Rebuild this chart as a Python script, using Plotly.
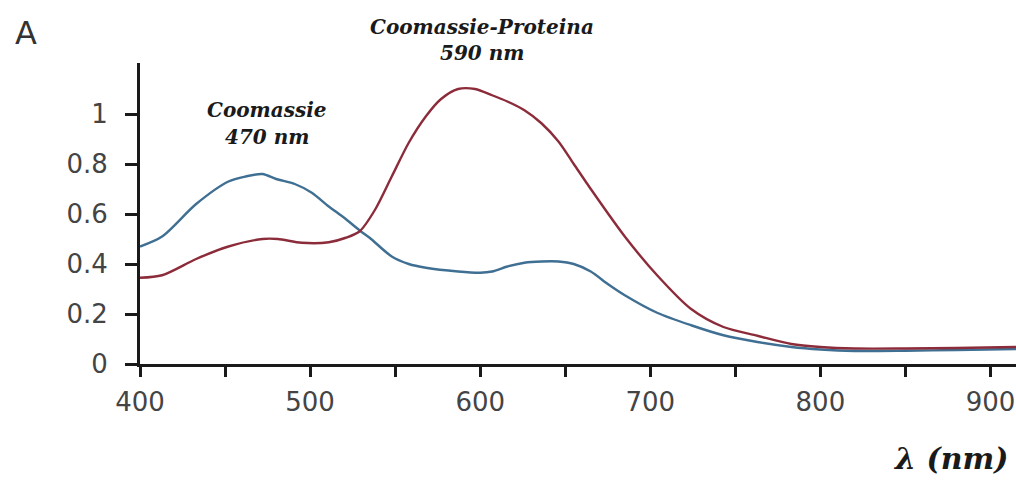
import plotly.graph_objects as go

# Data
wl_blue = [400, 413, 433, 452, 462, 472, 480, 491, 501, 511, 520, 529, 535, 548, 558, 568, 587, 600, 607, 616, 626, 636, 646, 655, 665, 675, 685, 704, 724, 743, 763, 783, 800, 820, 850, 880, 915]
abs_blue = [0.47, 0.51, 0.64, 0.73, 0.75, 0.76, 0.74, 0.72, 0.685, 0.63, 0.585, 0.535, 0.505, 0.43, 0.40, 0.385, 0.37, 0.365, 0.37, 0.39, 0.405, 0.41, 0.41, 0.40, 0.37, 0.32, 0.275, 0.205, 0.155, 0.115, 0.088, 0.068, 0.058, 0.052, 0.053, 0.056, 0.06]

wl_red = [400, 413, 433, 452, 472, 481, 495, 511, 521, 529, 538, 548, 558, 568, 577, 587, 597, 607, 616, 626, 636, 646, 655, 665, 685, 704, 724, 743, 763, 783, 800, 820, 850, 880, 915]
abs_red = [0.345, 0.355, 0.42, 0.47, 0.50, 0.50, 0.485, 0.487, 0.505, 0.53, 0.615, 0.75, 0.885, 0.99, 1.06, 1.10, 1.10, 1.075, 1.05, 1.015, 0.963, 0.89, 0.80, 0.70, 0.51, 0.355, 0.22, 0.148, 0.113, 0.08, 0.068, 0.062, 0.062, 0.064, 0.068]

x_tickvals = [400, 450, 500, 550, 600, 650, 700, 750, 800, 850, 900]
x_ticktext = ["400", "", "500", "", "600", "", "700", "", "800", "", "900"]
y_tickvals = [0, 0.2, 0.4, 0.6, 0.8, 1.0]
y_ticktext = ["0", "0.2", "0.4", "0.6", "0.8", "1"]

fig = go.Figure()
fig.add_trace(go.Scatter(x=wl_blue, y=abs_blue, mode="lines",
                         line=dict(color="#3f6f92", width=2.4, shape="spline", smoothing=0.8),
                         showlegend=False))
fig.add_trace(go.Scatter(x=wl_red, y=abs_red, mode="lines",
                         line=dict(color="#8c2c3a", width=2.4, shape="spline", smoothing=0.8),
                         showlegend=False))

tickfont = dict(family="DejaVu Sans", size=26, color="#444444")
fig.update_layout(
    width=1016, height=480,
    margin=dict(l=140, r=0, t=63, b=116),
    paper_bgcolor="white", plot_bgcolor="white",
    xaxis=dict(range=[400, 915], tickvals=x_tickvals, ticktext=x_ticktext,
               showgrid=False, zeroline=False, showline=True, linecolor="#1a1a1a", linewidth=3,
               ticks="outside", ticklen=10, tickwidth=3, tickcolor="#1a1a1a",
               tickfont=tickfont, ticklabelstandoff=3, automargin=False),
    yaxis=dict(range=[0, 1.204], tickvals=y_tickvals, ticktext=y_ticktext,
               showgrid=False, zeroline=False, showline=True, linecolor="#1a1a1a", linewidth=3,
               ticks="outside", ticklen=12, tickwidth=3, tickcolor="#1a1a1a",
               tickfont=tickfont, ticklabelstandoff=12, automargin=False),
)

px0, px1 = 140, 1016
py0, py1 = 63, 364
def to_paper(x, y):
    return (x - px0) / (px1 - px0), (py1 - y) / (py1 - py0)

serif = dict(family="DejaVu Serif", size=20, color="#1a1a1a")
ann = [
    dict(text="<b><i>Coomassie</i></b>", x=267, y=110),
    dict(text="<b><i>470 nm</i></b>", x=267, y=137),
    dict(text="<b><i>Coomassie-Proteina</i></b>", x=482, y=27),
    dict(text="<b><i>590 nm</i></b>", x=482, y=53),
]
for a in ann:
    xp, yp = to_paper(a["x"], a["y"])
    fig.add_annotation(text=a["text"], x=xp, y=yp, xref="paper", yref="paper",
                       showarrow=False, font=serif, xanchor="center", yanchor="middle")

xp, yp = to_paper(26, 33)
fig.add_annotation(text="A", x=xp, y=yp, xref="paper", yref="paper", showarrow=False,
                   font=dict(family="DejaVu Sans", size=32, color="#333333"),
                   xanchor="center", yanchor="middle")
xp, yp = to_paper(1010, 458)
fig.add_annotation(text="<b><i>λ (nm)</i></b>", x=xp, y=yp, xref="paper", yref="paper",
                   showarrow=False, font=dict(family="DejaVu Serif", size=30, color="#1a1a1a"),
                   xanchor="right", yanchor="middle")

fig.write_html("out.html", config={"displayModeBar": False},
               post_script="document.body.style.margin='0';document.body.style.padding='0';")
